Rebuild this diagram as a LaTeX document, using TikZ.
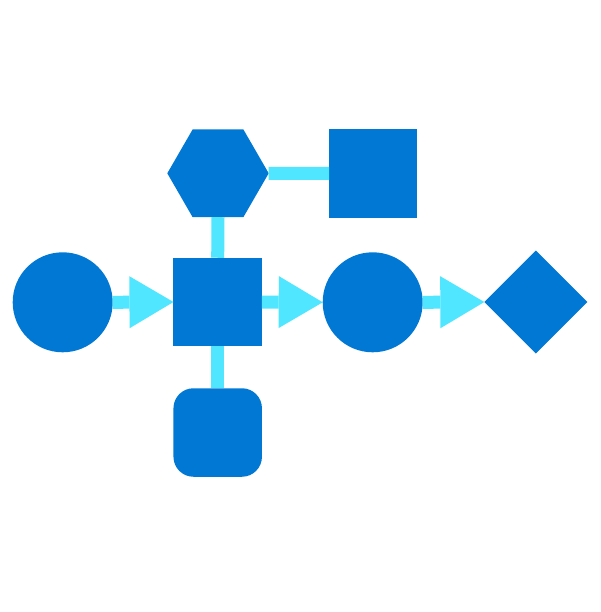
\documentclass[tikz,border=0pt]{standalone}
\usetikzlibrary{shapes.geometric}
\usetikzlibrary{arrows.meta}

\definecolor{azblue}{HTML}{0078D4}
\definecolor{azcyan}{HTML}{50E6FF}

\begin{document}
\begin{tikzpicture}[x=1pt, y=-1pt,
    blk/.style = {fill=azblue, draw=none, inner sep=0pt, outer sep=0pt},
    link/.style = {draw=azcyan, line width=13pt},
    flow/.style = {link, -{Triangle[length=44pt, width=52pt, line width=0pt]}}]
    \fill[white] (0,0) rectangle (600,612);
    \useasboundingbox (0,0) rectangle (600,612);
    % shapes
    \node[blk, circle, minimum size=100pt] (start) at (62.7,302.3) {};
    \node[blk, rectangle, minimum size=88.5pt] (hub) at (217.7,302) {};
    \node[blk, regular polygon, regular polygon sides=6, minimum size=101.4pt] (hexa) at (218,173.3) {};
    \node[blk, rectangle, minimum size=88.3pt] (side) at (373.2,173.5) {};
    \node[blk, rectangle, rounded corners=20pt, minimum size=88.5pt] (below) at (217.7,432.5) {};
    \node[blk, circle, minimum size=100pt] (mid) at (372.7,302.3) {};
    \node[blk, diamond, minimum size=103pt] (stop) at (535.8,302) {};
    % connectors
    \draw[link] (hexa.south) -- (hub.north);
    \draw[link] (hexa.east) -- (side.west);
    \draw[link] (hub.south) -- (below.north);
    \draw[flow] (start.east) -- (hub.west);
    \draw[flow] (hub.east) -- (mid.west);
    \draw[flow] (mid.east) -- (stop.west);
\end{tikzpicture}
\end{document}
